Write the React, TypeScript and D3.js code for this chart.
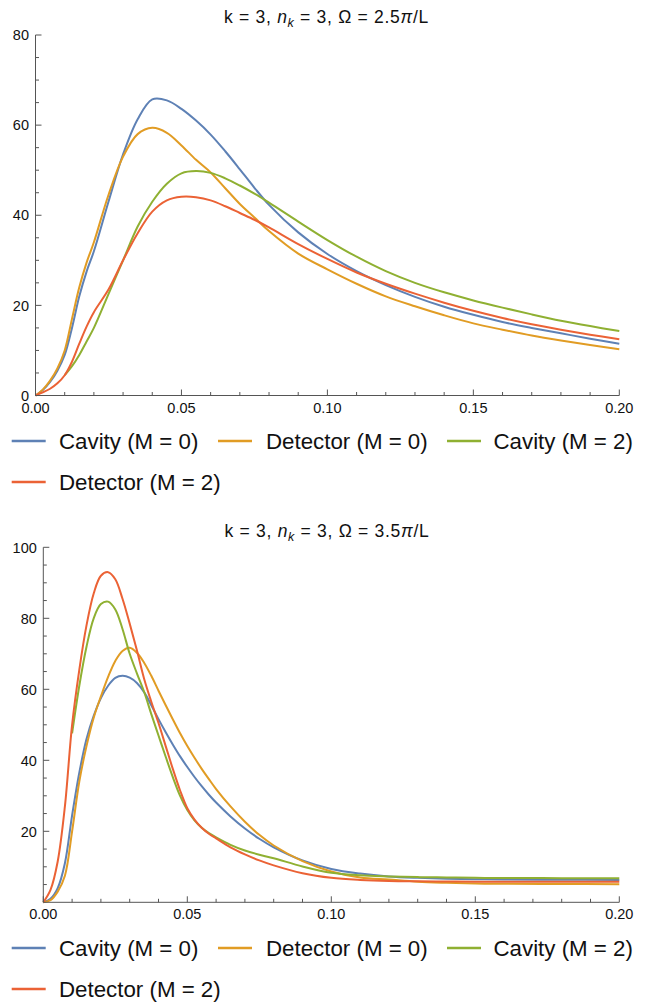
import React from "react";
import * as d3 from "d3";

// ---------- DATA ----------
const SERIES_NAMES = ["Cavity (M = 0)", "Detector (M = 0)", "Cavity (M = 2)", "Detector (M = 2)"];
const COLORS = ["#5E81B5", "#E19C24", "#8FB032", "#EB6235"];
const X_TICKS = [0, 0.05, 0.1, 0.15, 0.2];
const X_TICK_LABELS = ["0.00", "0.05", "0.10", "0.15", "0.20"];

const TITLE1_OMEGA = "2.5";
const TITLE2_OMEGA = "3.5";

// panel 1 (Ω = 2.5π/L)
const X1 = [0, 0.0025, 0.005, 0.0075, 0.01, 0.0125, 0.015, 0.0175, 0.02, 0.025, 0.03, 0.035, 0.04, 0.045, 0.05, 0.055, 0.06, 0.065, 0.07, 0.075, 0.08, 0.09, 0.10, 0.11, 0.12, 0.13, 0.14, 0.15, 0.16, 0.17, 0.18, 0.19, 0.20];
const CAVITY_M0_1 = [0, 1.2, 3, 5.5, 9, 15, 22, 27.5, 32, 43, 53.5, 61.3, 65.7, 65.5, 63.6, 61.0, 57.9, 54.2, 50.2, 46.1, 42.3, 36.2, 31.4, 27.6, 24.5, 21.9, 19.7, 17.9, 16.3, 15.0, 13.8, 12.6, 11.5];
const DETECTOR_M0_1 = [0, 1.3, 3.3, 6, 10, 17, 24, 29.5, 34, 44.5, 53, 58, 59.4, 58.3, 55.5, 52.3, 49.5, 46, 42.5, 39.5, 36.5, 31.5, 28, 24.8, 22, 19.8, 17.8, 16.0, 14.6, 13.3, 12.2, 11.2, 10.25];
const CAVITY_M2_1 = [null, null, null, null, 4.5, 6.5, 9, 12, 15, 22.5, 30, 37.5, 43, 47, 49.3, 49.8, 49.4, 48.2, 46.6, 44.8, 42.8, 38.6, 34.5, 30.8, 27.6, 25.0, 22.9, 21.1, 19.5, 18.0, 16.6, 15.4, 14.3];
const DETECTOR_M2_1 = [0, 0.7, 1.5, 2.7, 4.5, 7.5, 11.5, 15.3, 18.5, 23.5, 30, 36, 40.8, 43.3, 44.1, 44, 43.3, 42, 40.5, 39, 37.3, 33.6, 30.3, 27.3, 24.8, 22.6, 20.6, 18.8, 17.2, 15.8, 14.6, 13.5, 12.5];
const Y1_TICKS = [0, 20, 40, 60, 80];

// panel 2 (Ω = 3.5π/L)
const X2 = [0, 0.0025, 0.005, 0.0075, 0.01, 0.0125, 0.015, 0.0175, 0.02, 0.0225, 0.025, 0.0275, 0.03, 0.0325, 0.035, 0.0375, 0.04, 0.0425, 0.045, 0.0475, 0.05, 0.0525, 0.055, 0.0575, 0.06, 0.065, 0.07, 0.075, 0.08, 0.09, 0.10, 0.11, 0.12, 0.13, 0.14, 0.15, 0.16, 0.18, 0.20];
const CAVITY_M0_2 = [0, 1, 4, 11, 24.5, 36.5, 46, 52.5, 57.5, 61, 63.2, 63.8, 63.3, 61.8, 59.2, 55.5, 51.6, 47.9, 44.4, 41.1, 38.1, 35.3, 32.7, 30.3, 28.1, 24.2, 20.8, 17.9, 15.5, 11.8, 9.4, 8.1, 7.3, 6.9, 6.65, 6.5, 6.4, 6.35, 6.3];
const DETECTOR_M0_2 = [0, 0.6, 3, 7.5, 20, 34, 44, 52, 58, 63.5, 68, 70.8, 71.7, 70.3, 67.5, 63.8, 59.6, 55.5, 51.5, 47.6, 44.0, 40.7, 37.6, 34.7, 31.9, 27.0, 22.7, 19.0, 16.0, 11.6, 8.7, 7.0, 6.4, 5.8, 5.5, 5.3, 5.2, 5.15, 5.1];
const CAVITY_M2_2 = [null, null, null, null, 47.6, 61, 72, 80, 84, 84.7, 82.5, 77, 70, 64.5, 59.3, 53, 47, 41, 35.2, 30, 26, 23.1, 21.0, 19.5, 18.3, 16.2, 14.6, 13.4, 12.4, 10.1, 8.3, 7.6, 7.3, 7.1, 7.0, 6.9, 6.85, 6.8, 6.8];
const DETECTOR_M2_2 = [0, 3.5, 11.5, 27, 50, 65.5, 78, 87, 92, 93, 91, 85.5, 78.5, 71, 63, 56.5, 50.5, 44, 37.5, 31.5, 26.5, 23.3, 21.0, 19.3, 18.0, 15.5, 13.5, 11.8, 10.4, 8.2, 6.9, 6.3, 6.0, 5.9, 5.85, 5.8, 5.8, 5.8, 5.8];
const Y2_TICKS = [20, 40, 60, 80, 100];

const FONT = "'Liberation Sans', Arial, Helvetica, sans-serif";
const AXIS_COLOR = "#555";

type PanelProps = {
  xs: number[];
  series: (number | null)[][];
  yMax: number;
  yTicks: number[];
  left: number;
  right: number;
  bottom: number;
  top: number;
  omega: string;
  titleX: number;
  titleY: number;
  legendY: number[];
};

function Panel(p: PanelProps) {
  const x = d3.scaleLinear().domain([0, 0.2]).range([p.left, p.right]);
  const y = d3.scaleLinear().domain([0, p.yMax]).range([p.bottom, p.top]);
  const minorX = d3.range(0, 0.2001, 0.01).filter((v) => Math.abs(Math.round(v / 0.05) * 0.05 - v) > 1e-6);
  const minorY = d3.range(0, p.yMax + 0.001, 5).filter((v) => v % 20 !== 0);
  const line = d3
    .line<[number, number | null]>()
    .defined((d) => d[1] !== null)
    .x((d) => x(d[0]))
    .y((d) => y(d[1] as number))
    .curve(d3.curveCatmullRom.alpha(0.5));
  const legendItems = [
    { i: 0, sx: 11.7, tx: 59, row: 0 },
    { i: 1, sx: 218, tx: 266, row: 0 },
    { i: 2, sx: 447, tx: 493.5, row: 0 },
    { i: 3, sx: 11.7, tx: 59, row: 1 },
  ];
  return (
    <g>
      <text x={p.titleX} y={p.titleY} textAnchor="middle" fontSize={17.5} letterSpacing={0.7} fontFamily={FONT} fill="#111">
        k = 3, <tspan fontStyle="italic">n</tspan>
        <tspan fontStyle="italic" fontSize={12.5} dy={4}>k</tspan>
        <tspan dy={-4}> = 3, Ω = {p.omega}</tspan>
        <tspan fontStyle="italic">π</tspan>/L
      </text>
      {/* curves */}
      <g>
        {p.series.map((s, i) => (
          <path
            key={i}
            d={line(p.xs.map((xv, j) => [xv, s[j]] as [number, number | null])) || ""}
            fill="none"
            stroke={COLORS[i]}
            strokeWidth={2}
            strokeLinejoin="round"
          />
        ))}
      </g>
      {/* axes */}
      <line x1={p.left} x2={p.right} y1={p.bottom} y2={p.bottom} stroke={AXIS_COLOR} strokeWidth={1} />
      <line x1={p.left} x2={p.left} y1={p.bottom} y2={p.top} stroke={AXIS_COLOR} strokeWidth={1} />
      {X_TICKS.map((v, i) => (
        <g key={"xt" + i}>
          <line x1={x(v)} x2={x(v)} y1={p.bottom} y2={p.bottom - 6} stroke={AXIS_COLOR} />
          <text x={x(v)} y={p.bottom + 17} textAnchor="middle" fontSize={14.5} fontFamily={FONT} fill="#111">
            {X_TICK_LABELS[i]}
          </text>
        </g>
      ))}
      {minorX.map((v, i) => (
        <line key={"xm" + i} x1={x(v)} x2={x(v)} y1={p.bottom} y2={p.bottom - 3.5} stroke={AXIS_COLOR} />
      ))}
      {p.yTicks.map((v, i) => (
        <g key={"yt" + i}>
          <line x1={p.left} x2={p.left + 6} y1={y(v)} y2={y(v)} stroke={AXIS_COLOR} />
          <text x={p.left - 6.5} y={y(v)} dy="0.36em" textAnchor="end" fontSize={14.5} fontFamily={FONT} fill="#111">
            {v}
          </text>
        </g>
      ))}
      {minorY.map((v, i) => (
        <line key={"ym" + i} x1={p.left} x2={p.left + 3.5} y1={y(v)} y2={y(v)} stroke={AXIS_COLOR} />
      ))}
      {/* legend */}
      {legendItems.map((it) => (
        <g key={"lg" + it.i}>
          <line
            x1={it.sx}
            x2={it.sx + 34}
            y1={p.legendY[it.row]}
            y2={p.legendY[it.row]}
            stroke={COLORS[it.i]}
            strokeWidth={2.5}
          />
          <text x={it.tx} y={p.legendY[it.row]} dy="0.36em" fontSize={22.3} fontFamily={FONT} fill="#111">
            {SERIES_NAMES[it.i]}
          </text>
        </g>
      ))}
    </g>
  );
}

export default function App() {
  return (
    <svg
      width={647}
      height={1002}
      style={{ position: "absolute", left: 0, top: 0, background: "#fff" }}
    >
      <rect width={647} height={1002} fill="#fff" />
      <Panel
        xs={X1}
        series={[CAVITY_M0_1, DETECTOR_M0_1, CAVITY_M2_1, DETECTOR_M2_1]}
        yMax={80}
        yTicks={Y1_TICKS}
        left={35.5}
        right={619.3}
        bottom={395.5}
        top={35}
        omega={TITLE1_OMEGA}
        titleX={326.5}
        titleY={22.5}
        legendY={[441, 482]}
      />
      <Panel
        xs={X2}
        series={[CAVITY_M0_2, DETECTOR_M0_2, CAVITY_M2_2, DETECTOR_M2_2]}
        yMax={100}
        yTicks={Y2_TICKS}
        left={43.3}
        right={619.3}
        bottom={902.3}
        top={547.3}
        omega={TITLE2_OMEGA}
        titleX={327}
        titleY={536.5}
        legendY={[948, 989]}
      />
    </svg>
  );
}
